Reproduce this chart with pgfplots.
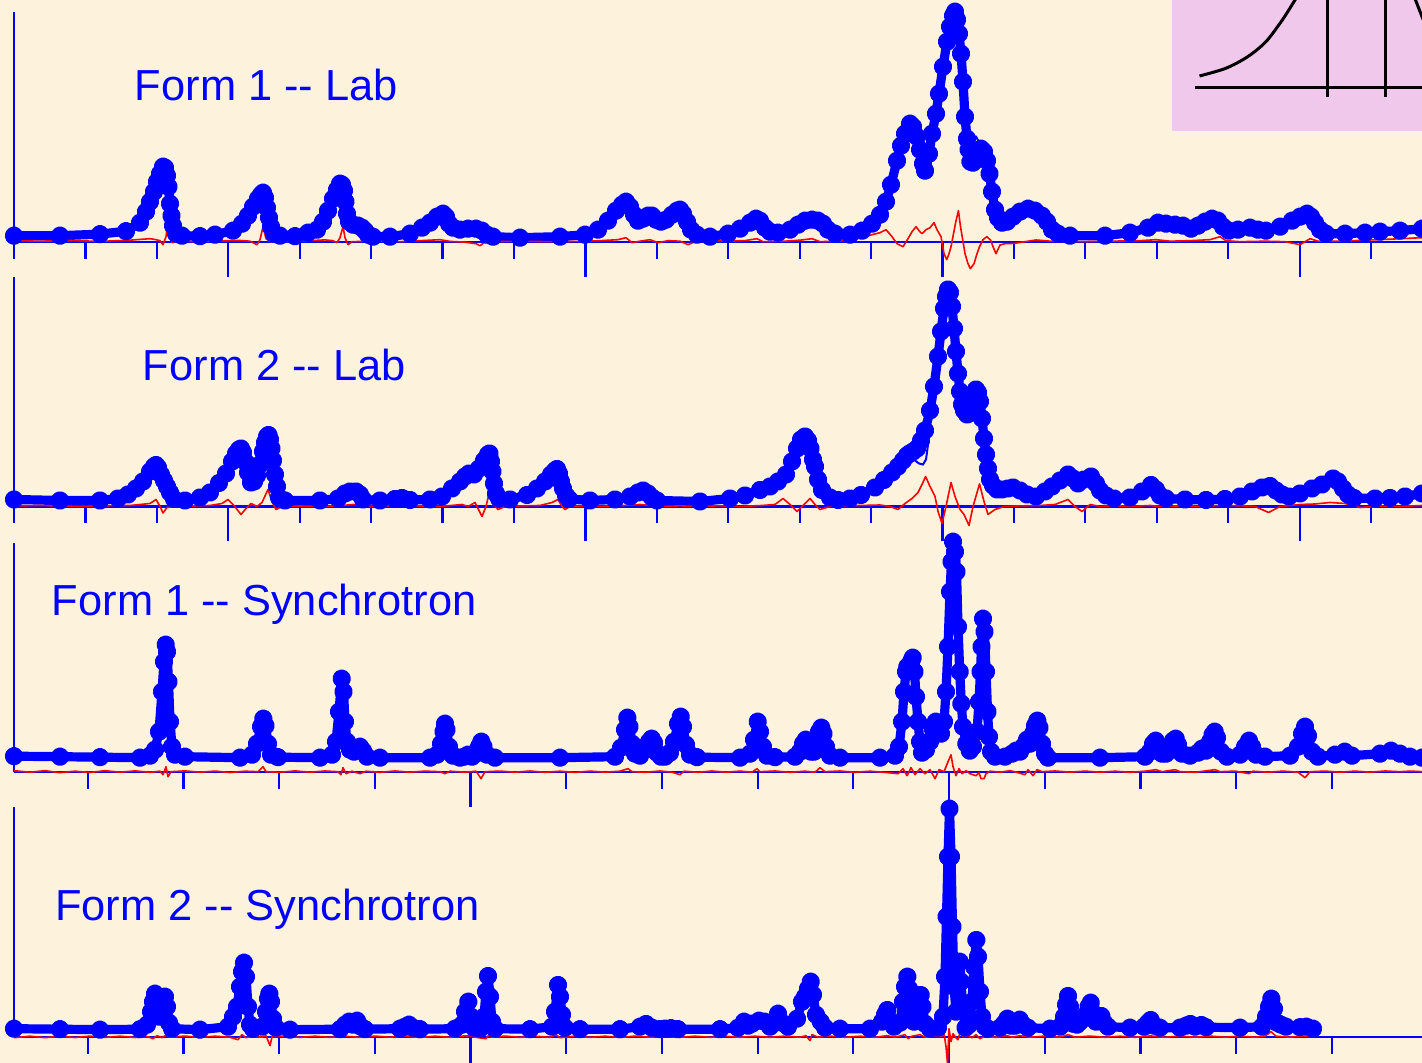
\documentclass[border=0pt]{standalone}
\usepackage{fontspec}
\setmainfont{Liberation Sans}
\usepackage{pgfplots}
\pgfplotsset{compat=1.18}
\definecolor{bg}{RGB}{253,243,221}
\definecolor{insetpink}{RGB}{240,200,236}
\definecolor{obs}{RGB}{0,0,255}
\pgfplotsset{
  panel/.style={scale only axis, width=704pt, xmin=14, xmax=1422, ymin=0,
    axis lines=left, axis line style={-, draw=obs, line width=1.1pt},
    ytick=\empty, xticklabels={}, tick align=outside,
    major tick length=17.5pt, minor tick length=8.5pt,
    every tick/.style={draw=obs, line width=1.1pt},
    clip=false, anchor=south west},
  lab/.style={xtick={228.3,585.4,942.5,1299.6},
    minor xtick={14,85.4,156.8,299.7,371.1,442.5,513.9,656.8,728.2,799.6,871.0,1013.9,1085.3,1156.7,1228.1,1371.0}},
  syn/.style={xtick={470.5,949.0},
    minor xtick={87.7,183.4,279.1,374.8,566.2,661.9,757.6,853.3,1044.7,1140.4,1236.1,1331.8}},
  obsline/.style={draw=obs, line width=4.6pt, line join=round, line cap=round,
    mark=*, mark size=2.35pt, mark options={fill=obs, draw=none}},
  calcline/.style={draw=obs, line width=1pt, no markers},
  diffline/.style={draw=red, line width=0.8pt, no markers, line join=round}
}
\tikzset{lbl/.style={anchor=base west, inner sep=0pt, text=obs, font=\fontsize{21.7pt}{26pt}\selectfont}}
\begin{document}
\begin{tikzpicture}
\path[use as bounding box] (0pt,0pt) rectangle (711pt,531.5pt);
\begin{scope}
\clip (0pt,0pt) rectangle (711pt,531.5pt);
\fill[bg] (0pt,0pt) rectangle (711pt,531.5pt);

% ---------- Panel 1: Form 1 -- Lab ----------
\begin{axis}[panel, lab, height=114.85pt, ymax=229.7, at={(7pt,410.65pt)}]
\addplot[obsline] coordinates {(14,6)(60,6)(100,7.5)(126,10.5)(140,19)(146,30)(150,40)(154,50)(157,60)(160,68)(163,75)(165,74)(167,66)(168.5,55)(170,38)(171.5,26)(173,16)(176,8)(182,6)(200,5.5)(215,7)(233,11)(242,18)(248,26)(253,35)(258,43)(261,47)(263,49)(265,44)(267,34)(269,24)(271,15)(274,8)(280,6)(295,5.5)(308,9)(317,12)(323,20)(328,31)(333,43)(337,52)(340,58)(342,57)(344,51)(345.5,40)(347,28)(349,20)(353,17)(358,16)(362,14)(365,11)(368,7)(373,5)(390,5)(410,8)(422,14)(430,19)(437,25)(443,28)(446,25)(449,18)(453,14)(460,12)(468,13)(476,13)(482,11)(487,7)(493,5)(520,4)(560,5)(585,7)(598,12)(608,21)(616,31)(622,37)(626,40)(630,35)(634,27)(638,21)(643,23)(648,26)(652,26)(656,22)(661,20)(666,22)(672,27)(677,31)(680,32)(683,28)(687,20)(691,12)(697,7)(710,5)(728,8)(740,13)(750,19)(756,23)(760,21)(765,14)(770,10)(778,9)(790,12)(798,17)(805,21)(812,22)(818,21)(823,18)(828,12)(835,8)(850,7)(862,11)(872,18)(880,27)(886,40)(891,57)(897,81)(901,96)(905,108)(910,118)(913,115)(917,105)(920,92)(923,78)(925,71)(929,88)(932,108)(936,128)(939,148)(943,175)(947,200)(950,215)(953,226)(955,230)(957,222)(959,208)(961,188)(963,160)(965,125)(967,103)(968.6,92)(970.4,80)(973,79)(976,86)(979,91)(981,93)(984,90)(987,81)(989.5,68)(992,50)(995,32)(998,24)(1002,19)(1007,20)(1013,25)(1020,30)(1028,33)(1035,31)(1042,26)(1047,20)(1052,12)(1058,8)(1070,6)(1105,6)(1130,9)(1148,14)(1158,19)(1166,18)(1175,17)(1183,16)(1191,13)(1198,16)(1205,20)(1212,23)(1218,21)(1223,15)(1229,11)(1238,12)(1250,14)(1258,12)(1266,11)(1280,15)(1292,21)(1300,25)(1307,28)(1311,25)(1315,19)(1320,12)(1326,8)(1345,8)(1365,9)(1380,10)(1400,11)(1422,13)};
\addplot[calcline] coordinates {(953,228)(956,225)(959,205)(962,170)(965,125)(967,106)(976,105)(980,98)(983,93)(987,81)};
\addplot[diffline] coordinates {(14,1)(40,0.5)(70,1.2)(100,0.3)(130,1.5)(150,3)(156,2)(160,1)(163,-3)(166,5)(168,21)(170,6)(172,-1)(180,0.5)(200,0)(220,0.8)(240,1.2)(250,0.5)(257,-3)(260,2)(263,15)(266,3)(270,0)(290,0.5)(310,1)(325,1.8)(333,1)(337,-1)(340,4)(343,15)(345,4)(348,-3)(352,0)(370,0.5)(400,0)(420,1)(440,2)(450,0.3)(465,-0.5)(476,-2)(480,-4)(484,-1)(490,0)(520,0.5)(550,0)(580,0.3)(600,1)(618,2)(626,4)(632,-1)(640,0.5)(650,2)(658,-1)(668,1)(680,0.5)(688,-3)(695,0)(720,0.8)(745,1)(757,3)(763,0)(785,0.5)(800,1.5)(812,3)(820,0)(835,0.5)(850,1.7)(862,4)(872,7)(880,9)(886,12)(892,5)(897,-2)(903,-5)(908,3)(912,10)(916,15)(919,11)(922,8)(926,12)(930,14)(934,19)(937,12)(941,5)(944,-12)(946.7,-18)(949,-12)(951,-5)(953.5,8)(955.8,20)(958.4,31)(960.5,15)(963,0)(965,-12)(968,-22)(970.4,-27)(974,-22)(977,-12)(979.5,-5)(983,2)(986.8,5)(990.5,1.7)(993,-5)(996,-12)(1000,-3.3)(1005,-2)(1014,-1.7)(1025,0)(1036,1.7)(1050,0.5)(1080,0)(1110,0.5)(1140,1)(1156,2)(1170,0.5)(1190,1)(1210,2)(1220,5)(1226,1)(1240,0)(1265,0.5)(1285,0)(1300,-3)(1305,0)(1310,3)(1318,0.5)(1340,0.5)(1365,1.5)(1390,2.5)(1422,4)};
\end{axis}

% ---------- Panel 2: Form 2 -- Lab ----------
\begin{axis}[panel, lab, height=114.75pt, ymax=229.5, at={(7pt,278.25pt)}]
\addplot[obsline] coordinates {(14,7)(60,6)(100,6)(118,8)(128,12)(136,18)(143,25)(150,35)(154,40)(156,41.5)(158,39)(161,32)(164,26)(167,20)(170,14)(174,7.5)(185,6)(200,9)(210,14)(219,23.5)(226,33)(232,45)(236,53)(239,57)(241,58)(243,54)(246,44)(248,34)(251,24)(254,25)(257,31)(260,42)(263,55)(265,64)(267,70)(268.5,71.5)(270,67)(271.5,58)(273,46)(275,32)(277,20)(279,9)(285,6)(320,6)(338,8)(345,13)(350,15)(356,15)(360,12)(363,7)(380,6)(395,7.5)(402,8.5)(410,6.5)(430,7)(442,10)(452,18)(460,25)(465,30)(469,33)(474,32)(479,38)(484,46)(488,52)(489.5,53)(491,45)(492.5,35)(494,23)(496,13)(499,8)(510,7)(527,11.5)(537,18)(545,25)(551,32)(555,36)(557,37.5)(559,33)(561,25)(563,18)(566,11)(569,7.5)(590,6)(615,7)(630,10)(638,14)(643,16)(648,13)(652,9)(657,6)(700,5)(730,8)(745,11)(760,16.5)(770,20)(778,25)(786,32)(792,45)(797,58)(801,67)(805,70)(808,66)(810.5,58)(813,47)(815,40)(818,27)(822,16.5)(830,9)(838,6.5)(850,8)(861,11.5)(875,19)(884,26.5)(892,34)(898,40)(903,46)(907,51)(909.5,53)(913,55)(917,58)(921,66)(925,76)(930,96)(934,120)(938,150)(941,175)(944,198)(946,210)(948,217)(950,214)(952,200)(954,178)(956,155)(958,133)(960,115)(962,102)(964,96)(967,92)(969,93)(972,103)(974,112)(976,117)(978,114)(980,105)(982,88)(984,68)(986,52)(988,38)(990,27)(993,21)(997,17)(1002,17)(1008,18)(1013,19)(1020,16)(1027,12)(1036,10)(1045,15)(1052,20)(1060,26)(1068,32)(1073,28)(1078,23)(1084,27)(1091,30)(1096,23)(1100,16)(1106,11)(1114,8)(1130,9)(1142,15)(1151,21.5)(1156,17)(1160,11)(1166,8)(1185,7)(1206,6.5)(1225,7.5)(1240,10)(1252,15)(1262,19)(1270,20.5)(1276,16)(1282,12)(1289,10)(1300,13)(1312,18)(1322,22)(1333,28)(1338,25)(1343,18)(1348,12)(1354,8.5)(1375,8)(1390,8.5)(1405,10)(1422,13)};
\addplot[calcline] coordinates {(760,19)(770,23)(780,28)(788,34)};
\addplot[calcline] coordinates {(905,49)(910,52)(915,46)(919,43)(923,42)(926,47)(928,62)(930,85)(932,108)(934,122)};
\addplot[diffline] coordinates {(14,0.5)(40,1)(80,0)(110,0.8)(130,1)(150,3)(156,7)(160,0)(163,-6.5)(167,-1)(175,0)(195,0.6)(210,1)(222,3)(228,7)(234,1)(241,-8)(246,-2)(251,3)(257,0)(262,4)(268,17)(272,5)(276,-3)(282,0)(300,0.5)(320,0)(340,0.8)(353,2)(370,0)(390,0.6)(410,1)(425,0.2)(440,0)(462,2)(468,0)(475,4)(482,-10)(486,0)(489,13)(493,3)(498,-3)(505,0)(520,0.6)(540,1)(552,4)(558,7)(562,0)(565,-3)(570,0)(585,0.6)(600,0)(620,0.8)(640,2)(660,0)(680,0.6)(700,0)(720,0.7)(740,0)(762,1)(775,2)(783,8)(790,2)(797,-5)(804,2)(810,8)(815,2)(820,-3)(830,0)(845,0.6)(860,1)(880,1.5)(890,0)(898,-3)(905,3)(912,8)(918,14)(922,22)(925.6,30)(930,20)(935,10)(938,-5)(942,-17)(946,0)(951,24)(955,10)(960,-3)(964,-8)(969,-19)(973,0)(979.5,22.6)(984,5)(988,-8)(995,-3)(1004,0)(1020,0.6)(1040,1)(1055,2)(1068,7)(1075,0)(1082,-5)(1090,2)(1100,0)(1115,0.7)(1130,0)(1150,1)(1160,0)(1180,0.6)(1200,0)(1215,0.8)(1230,1)(1245,0.5)(1255,0)(1268.6,-6)(1280,0)(1300,2)(1315,2.5)(1330,4)(1345,3)(1360,-1)(1380,0.5)(1400,0)(1422,1)};
\end{axis}

% ---------- Panel 3: Form 1 -- Synchrotron ----------
\begin{axis}[panel, syn, height=114.5pt, ymax=229, at={(7pt,145.65pt)}]
\addplot[obsline] coordinates {(14,15.5)(60,15)(100,14.5)(140,14)(150,16)(155,22)(159,40)(162,80)(164,110)(165.7,127)(167,120)(168.5,90)(170,50)(172,25)(175,17)(185,15)(240,14)(252,17)(257,28)(261,45)(263.3,53)(265.5,46)(268,28)(271,17)(278,14.5)(320,14)(332,17)(336,30)(339,60)(341.7,93)(343.5,80)(345,50)(347,30)(350,22)(354,20)(357,23)(360,25)(363,21)(367,15)(380,14)(430,14)(437,17)(441,28)(443.5,40)(445,48)(446.5,42)(449,25)(453,16)(460,14)(464,15)(468,17)(472,15)(476,18)(479,25)(481.3,30)(483.5,25)(487,17)(495,14)(560,14)(615,15)(621,24)(625,42)(627.3,54)(629.5,45)(632,28)(635,18)(640,16)(645,22)(649,30)(651.7,33)(654,29)(657,19)(661,15)(665,15)(670,19)(674,30)(678,48)(680.7,55)(683,45)(686,27)(690,17)(697,14.5)(740,14)(750,18)(754,32)(757.7,50)(760,40)(763,25)(767,16)(775,14.5)(795,15)(800,20)(803,28)(805.7,32)(808,27)(811,20)(814,20)(817,32)(819,40)(821.3,44)(823.5,38)(826,25)(830,16)(840,14)(880,14)(895,16)(899,25)(902,50)(904,80)(906,100)(907.3,105)(909,104)(911,110)(912.7,114)(914.5,100)(916,75)(918,50)(920,30)(922,19)(926,22)(930,30)(933,42)(935.7,50)(938,45)(941,38)(944,50)(946,80)(948,125)(950,180)(951.5,210)(953,230)(955,220)(956.5,200)(958,145)(959.7,100)(961.3,68)(963,45)(966.3,28)(969.7,21)(973,25)(977,40)(979,70)(980.5,100)(981.5,125)(983,153)(984.5,140)(986,100)(987.5,60)(989,35)(991,20)(995,15)(1005,15)(1012,18)(1016,21)(1020,20)(1024,26)(1027,32)(1030,28)(1033,38)(1035,46)(1037.3,51)(1039.5,44)(1042,28)(1045,18)(1048,14)(1100,14)(1145,15)(1150,20)(1153,28)(1155.7,31)(1158,27)(1162,18)(1166,18)(1170,25)(1173,31)(1175.7,33)(1178,27)(1182,18)(1190,16)(1198,19)(1202,23)(1206,21)(1210,30)(1212.5,37)(1214.7,40)(1217,34)(1221,20)(1227,15)(1240,17)(1245,25)(1249,31)(1252,25)(1256,17)(1265,15)(1290,16)(1298,25)(1302,38)(1305,45)(1308,36)(1312,20)(1318,15)(1335,17)(1344.7,20)(1352,16)(1380,18)(1391,21)(1400,18)(1410,15)(1422,14)};
\addplot[diffline] coordinates {(14,1)(30,-0.5)(45,1)(60,-1)(75,0.5)(90,-0.8)(105,1)(120,-0.5)(135,0.8)(150,-0.6)(160,0.5)(163,-3)(166,5)(168,-5)(171,0)(185,0.8)(200,-0.5)(215,0.6)(230,-0.8)(245,0.5)(258,0)(263,5)(266,0)(280,-0.6)(295,0.8)(310,-0.5)(325,0.7)(338,0)(341,-3)(343,4)(346,-2)(352,0.5)(360,-2)(366,0.5)(380,-0.6)(395,0.7)(410,-0.5)(425,0.6)(440,0)(445,-2)(450,0.5)(465,-0.5)(476,0.5)(481,-7)(485,0)(500,0.6)(515,-0.5)(530,0.7)(545,-0.6)(560,0.5)(575,-0.7)(590,0.6)(605,-0.5)(620,0.5)(628,3)(632,0)(645,-0.6)(660,0.7)(672,-0.5)(680,-3)(684,0.5)(698,-0.6)(712,0.7)(726,-0.5)(740,0.6)(752,-0.5)(757,3)(760,0)(775,0.7)(790,-0.6)(805,0.5)(815,-0.5)(820,4)(825,0)(840,0.7)(855,-0.6)(870,0.5)(885,-0.7)(898,-2)(903,3)(907,-4)(911,4)(915,-3)(920,3)(925,-2)(930,2)(935,-7)(939,2)(944,0)(948,10)(951,17)(953,5)(956,-4)(959,3)(962,-2)(966,1)(970,-2)(976,-4)(979,-1)(981,-7)(984,-7)(986,-2)(990,0.5)(1000,-0.5)(1010,1)(1018,-1)(1025,-3)(1028,2)(1033,-4)(1037,2)(1042,0)(1055,0.7)(1070,-0.5)(1085,0.6)(1100,-0.5)(1115,0.5)(1130,-0.6)(1145,0.5)(1156,2)(1162,0)(1175,2)(1180,0)(1195,-0.6)(1215,2)(1220,0)(1235,0.6)(1249,-2)(1253,0.5)(1268,-0.5)(1283,0.6)(1298,-0.5)(1305,-6)(1310,0)(1325,0.6)(1340,-0.5)(1355,0.6)(1370,-0.5)(1385,0.7)(1400,0)(1411,0.6)(1422,0)};
\end{axis}

% ---------- Panel 4: Form 2 -- Synchrotron ----------
\begin{axis}[panel, syn, height=115pt, ymax=230, at={(7pt,13.15pt)}]
\addplot[obsline] coordinates {(14,8)(60,7.5)(100,7)(140,7.5)(147,12)(151,25)(153,35)(155,43)(157,32)(159,20)(161,28)(163,38)(165,40)(167,30)(169,14)(172,8)(200,7)(228,10)(233,20)(237,30)(240,50)(242,65)(244,74)(246,60)(248,30)(250,12)(253,8)(262,10)(266,25)(268,38)(269.3,43)(271,35)(273,18)(276,9)(290,7)(340,7.5)(345,12)(349,15)(353,12)(357,16)(361,10)(365,7.5)(400,8)(405,10)(409,12)(413,9)(420,7.5)(455,8)(462,12)(465,25)(468.3,35)(471,20)(474,9)(480,8)(484,20)(486,45)(488,60.7)(490,40)(492,15)(495,8)(530,7.5)(552,10)(555,25)(558,51.7)(560,40)(562,22)(565,9)(580,7.5)(620,7.5)(640,10)(646,12.7)(652,9)(660,7.5)(665,8)(671,8.5)(678,7.5)(720,7.5)(738,9)(744,15)(748,11)(752,13)(759,16)(764.7,15)(770,10)(774,15)(778,23)(782,14)(788,10)(797,18)(802,35)(805,40)(808,48)(810.7,55)(813,42)(816,22)(820.7,15)(825,9)(840,8)(870,8)(882,15)(885,22)(887.3,26.7)(890,16)(894,10)(900,14)(903,35)(905,50)(907.3,60)(909,48)(911,20)(914,15)(917,30)(918.5,38)(920.7,41.7)(922.5,30)(925,13)(930,8)(938,9)(943,20)(945,60)(946.5,120)(948,180)(949.5,228)(951,180)(952.5,110)(954,50)(956,25)(958,55)(959.7,75)(961,55)(963,25)(965.5,9)(969,12)(972,35)(974,70)(976.3,96.7)(978,80)(980,45)(982,20)(985,10)(988,8)(1000,9)(1004,13)(1007.3,18)(1011,11)(1015,11)(1019.7,17)(1023,12)(1028,9)(1050,8)(1060,10)(1064,20)(1066,32)(1068,40.7)(1070,30)(1073,13)(1077,12)(1080,15)(1083,18.7)(1086,22)(1088.5,30)(1090.7,34)(1093,24)(1096,15)(1098,16)(1101.3,20.7)(1104,14)(1108,10)(1130,9)(1144,10)(1148,14)(1150.7,16.7)(1154,11)(1160,9)(1180,9)(1186,11)(1190.3,12.7)(1195,10)(1201.3,11.7)(1206,9.5)(1240,9)(1262,10)(1266,20)(1269,30)(1271.3,38)(1274,28)(1277,14)(1281,12)(1286,10)(1300,9.5)(1306.3,10)(1313,8)};
\addplot[diffline] coordinates {(14,-1)(30,0.5)(45,-1)(60,0.5)(75,-0.8)(90,0.6)(105,-0.7)(120,0.5)(135,-0.8)(148,0)(153,-2)(157,1)(162,-1)(166,1.5)(170,-0.5)(185,0.6)(200,-0.7)(215,0.5)(230,-0.6)(238,-3)(242,2)(246,-1)(252,0.5)(262,-0.5)(266,1)(268,-4)(270,-9)(272,0)(285,0.6)(300,-0.7)(315,0.5)(330,-0.6)(345,0.5)(360,-0.7)(375,0.6)(390,-0.5)(405,0.6)(420,-0.7)(435,0.5)(450,-0.6)(465,0.8)(470,1)(475,-0.5)(486,-2)(489,2)(492,-0.5)(505,0.6)(520,-0.6)(535,0.5)(550,-0.6)(556,2)(560,-1)(575,0.5)(590,-0.6)(605,0.5)(620,-0.7)(635,0.6)(650,-0.5)(665,0.6)(680,-0.6)(695,0.5)(710,-0.6)(725,0.5)(740,-0.6)(755,0.5)(770,-0.6)(785,0.6)(800,-0.5)(806,1)(810,-4)(812,2)(818,-0.5)(830,0.6)(845,-0.6)(860,0.5)(875,-0.6)(887,1)(895,-0.5)(905,2)(908,-2)(912,0.5)(920,2)(925,-0.5)(935,0.6)(941,0)(944,3)(946,-10)(947.5,-27)(949,8)(951,-5)(953,3)(956,-1)(958,-3)(960,4)(963,0)(968,0.5)(972,-1)(976,2)(980,-2)(985,0.5)(995,-0.6)(1007,1)(1012,-0.5)(1020,1)(1030,-0.5)(1045,0.6)(1060,-0.5)(1068,2)(1075,-0.5)(1090,0.6)(1105,-0.6)(1120,0.5)(1135,-0.6)(1150,0.8)(1165,-0.5)(1180,0.6)(1195,-0.5)(1210,0.6)(1225,-0.5)(1240,0.5)(1255,-0.5)(1265,0.5)(1271,5)(1276,0.5)(1290,-0.5)(1300,0.5)(1313,0)};
\end{axis}

% ---------- Inset (peak profile sketch) ----------
\begin{axis}[scale only axis, hide axis, width=125pt, height=65.5pt,
  xmin=1172, xmax=1422, ymin=-131, ymax=0, at={(586pt,466pt)}, anchor=south west]
\addplot[fill=insetpink, draw=none] coordinates {(1172,-131)(1422,-131)(1422,0)(1172,0)} -- cycle;
\addplot[black, line width=1.5pt, no markers, smooth] coordinates {(1199.5,-76)(1225.8,-68.3)(1247.7,-56.7)(1265.9,-41.7)(1282.3,-20)(1295,0)(1300,8)};
\addplot[black, line width=1.5pt, no markers] coordinates {(1411,8)(1415.5,0)(1422,-16.7)(1426,-26)};
\addplot[black, line width=1.5pt, no markers] coordinates {(1195,-87.3)(1422,-87.3)};
\addplot[black, line width=1.5pt, no markers] coordinates {(1327.2,0)(1327.2,-96.7)};
\addplot[black, line width=1.5pt, no markers] coordinates {(1385.2,0)(1385.2,-96.7)};
\end{axis}

% ---------- Labels ----------
\node[lbl] at (67.25pt,481.15pt) {Form 1 -{}- Lab};
\node[lbl] at (71.25pt,341pt) {Form 2 -{}- Lab};
\node[lbl] at (25.75pt,223.5pt) {Form 1 -{}- Synchrotron};
\node[lbl] at (27.4pt,71.15pt) {Form 2 -{}- Synchrotron};
\end{scope}
\end{tikzpicture}
\end{document}
